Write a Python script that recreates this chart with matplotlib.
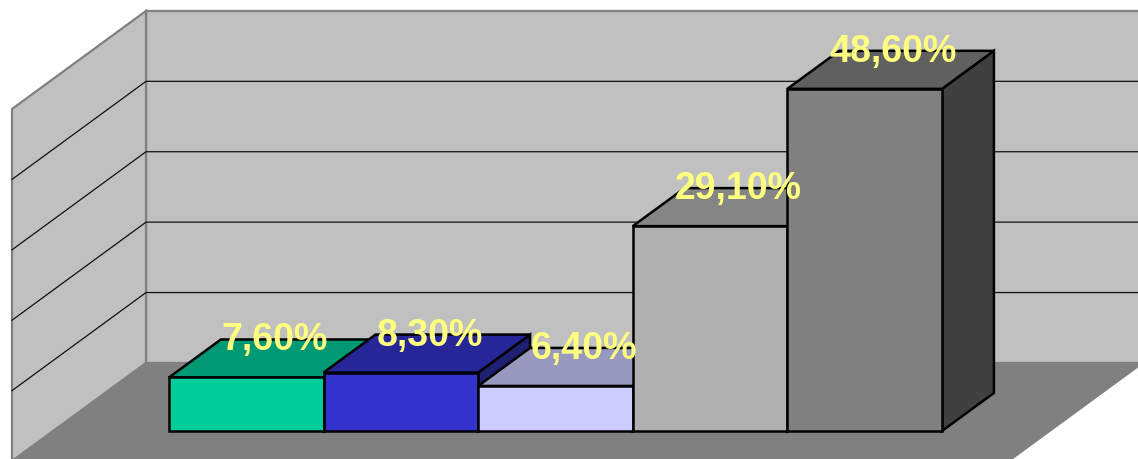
import matplotlib
matplotlib.use("Agg")
import matplotlib.pyplot as plt
from matplotlib.patches import Polygon

# DATA
values = [7.6, 8.3, 6.4, 29.1, 48.6]
front_colors = ["#00CC99", "#3333CC", "#CCCCFF", "#B0B0B0", "#808080"]
top_colors = ["#009973", "#262699", "#9999BF", "#858585", "#606060"]
side_colors = ["#007350", "#1F1F73", "#8080A6", "#6E6E6E", "#404040"]
grid_values = [10, 20, 30, 40]
v_max = 50

# 3D-ish projection: x along bars, v = value, z = depth (0 bar front, 1 bar back)
DX = 0.336
DY = 5.40
Z_FRONT = -0.79
Z_BACK = 1.79
MARGIN_L = 0.75
MARGIN_R = 0.70


def proj(x, v, z):
    return (x + z * DX, v + z * DY)


def poly(ax, pts, fc, ec, lw, z=1):
    ax.add_patch(Polygon([proj(*p) for p in pts], closed=True, facecolor=fc,
                         edgecolor=ec, linewidth=lw, joinstyle="miter", zorder=z))


fig = plt.figure(figsize=(11.38, 4.6), dpi=100)
ax = fig.add_axes([0, 0, 1, 1])
ax.set_xlim(-1.093, 6.268)
ax.set_ylim(-3.977, 61.36)
ax.axis("off")

n = len(values)
x0, x1 = -MARGIN_L, n + MARGIN_R

# floor
poly(ax, [(x0, 0, Z_FRONT), (x1, 0, Z_FRONT), (x1, 0, Z_BACK), (x0, 0, Z_BACK)],
     "#808080", "#808080", 1.0)
# back wall
poly(ax, [(x0, 0, Z_BACK), (x1, 0, Z_BACK), (x1, v_max, Z_BACK), (x0, v_max, Z_BACK)],
     "#C0C0C0", "#808080", 1.6)
# left wall
poly(ax, [(x0, 0, Z_FRONT), (x0, 0, Z_BACK), (x0, v_max, Z_BACK), (x0, v_max, Z_FRONT)],
     "#C0C0C0", "#808080", 1.6)

# gridlines
for g in grid_values:
    xs, ys = zip(proj(x0, g, Z_FRONT), proj(x0, g, Z_BACK), proj(x1, g, Z_BACK))
    ax.plot(xs, ys, color="#101010", linewidth=0.9, zorder=2)

# bars
for i, v in enumerate(values):
    a, b = i, i + 1
    poly(ax, [(b, 0, 0), (b, 0, 1), (b, v, 1), (b, v, 0)], side_colors[i], "black", 1.8, 3)
    poly(ax, [(a, v, 0), (b, v, 0), (b, v, 1), (a, v, 1)], top_colors[i], "black", 1.8, 3)
    poly(ax, [(a, 0, 0), (b, 0, 0), (b, v, 0), (a, v, 0)], front_colors[i], "black", 1.8, 3)

# labels
for i, v in enumerate(values):
    tx = i + 0.5 + 0.55 * DX
    ty = v + 1.0 * DY
    label = f"{v:.2f}".replace(".", ",") + "%"
    ax.text(tx, ty, label, ha="center", va="center", fontsize=27, fontweight="bold",
            color="#FFFF80", family=["Liberation Sans", "DejaVu Sans"], zorder=5)

fig.savefig("out.png", dpi=100)
